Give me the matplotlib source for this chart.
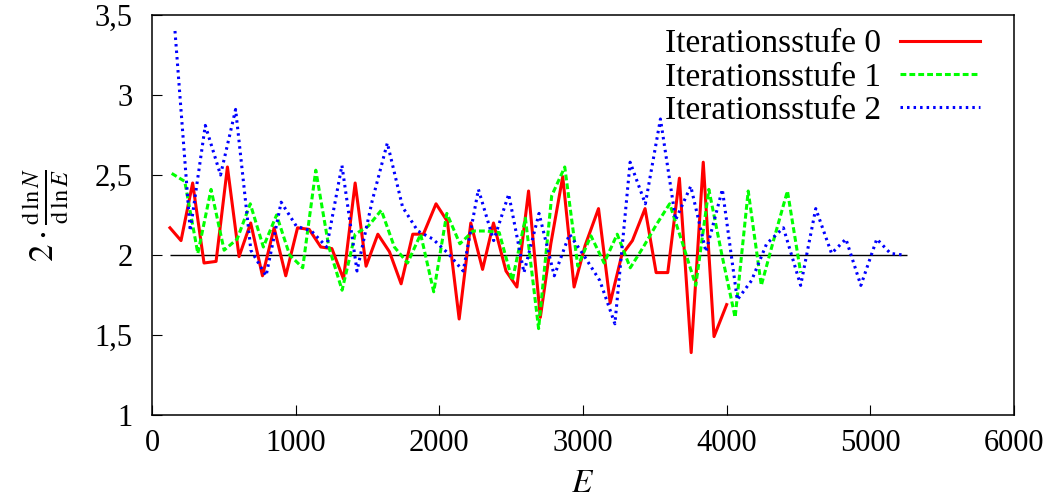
import numpy as np
import matplotlib
matplotlib.use('Agg')
import matplotlib.pyplot as plt

plt.rcParams['font.family'] = 'Liberation Serif'
plt.rcParams['mathtext.fontset'] = 'stix'
plt.rcParams['lines.scale_dashes'] = False

# Iterationsstufe 0
red_E = [125, 202, 283, 362, 446, 525, 606, 687, 769, 850, 931, 1013, 1094, 1175, 1252,
         1333, 1414, 1490, 1572, 1653, 1734, 1815, 1889, 1977, 2056, 2138, 2219, 2301,
         2377, 2464, 2540, 2621, 2703, 2776, 2859, 2938, 3015, 3108, 3189, 3270, 3344,
         3432, 3509, 3590, 3671, 3753, 3837, 3912, 4000]
red_v = [2.17, 2.09, 2.45, 1.95, 1.96, 2.55, 1.99, 2.20, 1.87, 2.17,
         1.87, 2.17, 2.16, 2.05, 2.04, 1.85, 2.45, 1.93, 2.13, 2.02,
         1.82, 2.13, 2.13, 2.32, 2.21, 1.60, 2.20, 1.91, 2.20, 1.90,
         1.80, 2.40, 1.61, 2.07, 2.49, 1.80, 2.06, 2.29, 1.70, 2.00,
         2.09, 2.29, 1.89, 1.89, 2.48, 1.39, 2.58, 1.49, 1.69]

# Iterationsstufe 1
green_E = [137, 228, 319, 411, 502, 593, 684, 775, 867, 958, 1049, 1140, 1231, 1323, 1414,
           1505, 1596, 1687, 1779, 1870, 1961, 2052, 2143, 2235, 2326, 2417, 2508, 2599,
           2691, 2782, 2873, 2964, 3055, 3147, 3238, 3329, 3420, 3511, 3603, 3694, 3785,
           3876, 3967, 4059, 4150, 4241, 4332, 4423, 4515]
green_v = [2.51, 2.46, 2.01, 2.41, 2.03, 2.10, 2.32, 2.05, 2.25, 2.00,
           1.92, 2.53, 2.05, 1.78, 2.13, 2.18, 2.28, 2.05, 1.95, 2.13,
           1.77, 2.26, 2.07, 2.15, 2.15, 2.14, 1.84, 2.23, 1.54, 2.37,
           2.55, 1.93, 2.12, 1.95, 2.13, 1.92, 2.05, 2.19, 2.32, 2.07,
           1.81, 2.41, 2.00, 1.61, 2.40, 1.81, 2.11, 2.40, 1.89]

# Iterationsstufe 2
blue_E = [160, 266, 371, 477, 582, 688, 794, 899, 1005, 1110, 1216, 1322, 1427, 1533, 1638,
          1744, 1850, 1955, 2061, 2166, 2272, 2378, 2483, 2589, 2694, 2800, 2906, 3011,
          3117, 3222, 3328, 3434, 3539, 3645, 3750, 3856, 3970, 4074, 4173, 4278, 4395,
          4515, 4620, 4730, 4830, 4934, 5045, 5140, 5229]
blue_v = [3.40, 2.15, 2.81, 2.50, 2.91, 2.03, 1.87, 2.33, 2.18, 2.15,
          2.05, 2.56, 1.90, 2.34, 2.70, 2.30, 2.15, 2.10, 2.01, 1.90,
          2.41, 2.09, 2.38, 1.89, 2.26, 1.87, 2.13, 1.99, 1.84, 1.57,
          2.58, 2.32, 2.85, 2.22, 2.43, 2.02, 2.41, 1.72, 1.84, 2.07,
          2.17, 1.81, 2.29, 2.01, 2.10, 1.81, 2.10, 2.01, 2.00]

ref_level = 2.0
ref_range = [125, 5255]

xticks = [0, 1000, 2000, 3000, 4000, 5000, 6000]
yticks = [1, 1.5, 2, 2.5, 3, 3.5]
ytick_labels = ['1', '1,5', '2', '2,5', '3', '3,5']

fig = plt.figure(figsize=(10.56, 4.99), dpi=100)
ax = fig.add_axes([152/1056, 1 - 415/499, 862/1056, 400/499])

ax.hlines(ref_level, ref_range[0], ref_range[1], color='black', lw=1.0)
ax.plot(red_E, red_v, color='#ff0000', lw=2.2, label='Iterationsstufe 0')
ax.plot(green_E, green_v, color='#00ff00', lw=2.2, dashes=(4.2, 2.2),
        label='Iterationsstufe 1')
ax.plot(blue_E, blue_v, color='#0000ff', lw=2.2, dashes=(1.8, 2.9),
        label='Iterationsstufe 2')

ax.set_xlim(0, 6000)
ax.set_ylim(1, 3.5)
ax.set_xticks(xticks)
ax.set_xticklabels([str(t) for t in xticks])
ax.set_yticks(yticks)
ax.set_yticklabels(ytick_labels)
ax.tick_params(direction='in', length=7, width=0.8, labelsize=22)
ax.tick_params(axis='y', pad=14)
ax.tick_params(axis='x', pad=10)
for s in ax.spines.values():
    s.set_linewidth(1.1)

ax.set_xlabel('$E$', fontsize=24, labelpad=8)
ax.set_ylabel(r'$2\cdot\frac{\mathrm{d}\,\ln N}{\mathrm{d}\,\ln E}$', fontsize=25,
              labelpad=17)

ax.legend(loc='upper right', bbox_to_anchor=(0.96, 0.965), frameon=False,
          markerfirst=False, fontsize=24, handlelength=2.4, handletextpad=0.55,
          labelspacing=0.08, borderpad=0, borderaxespad=0)

fig.savefig('out.png', dpi=100)
